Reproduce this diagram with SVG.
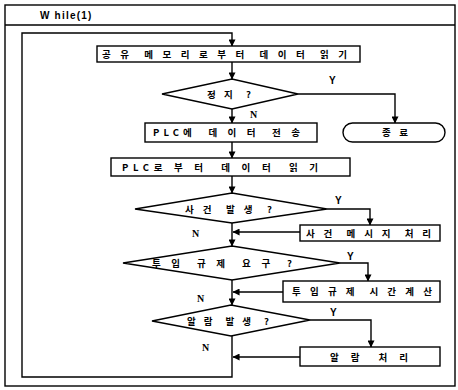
<svg xmlns="http://www.w3.org/2000/svg" width="458" height="390" viewBox="0 0 458 390">
  <style>
    .shape { fill: #fff; stroke: #000; stroke-width: 1.4; }
    .line { fill: none; stroke: #000; stroke-width: 1.4; }
    .ko { font-family: "Noto Sans CJK KR", "Liberation Sans", sans-serif; font-size: 9.5px; font-weight: bold; fill: #000; white-space: pre; }
    .lat { font-family: "Liberation Sans", sans-serif; font-size: 10px; font-weight: bold; fill: #000; }
    .yn { font-family: "Liberation Serif", serif; font-size: 10px; font-weight: bold; fill: #000; }
  </style>
  <defs>
    <marker id="arrow" viewBox="0 0 8 8" refX="7.5" refY="4" markerWidth="7" markerHeight="7" markerUnits="userSpaceOnUse" orient="auto">
      <path d="M0,0 L8,4 L0,8 Z" fill="#000"/>
    </marker>
  </defs>

  <rect width="458" height="390" fill="#fff"/>

  <!-- outer frame with the while(1) header -->
  <g id="frame">
    <rect class="line" x="5" y="5" width="450" height="381"/>
    <line class="line" x1="5" y1="25" x2="455" y2="25"/>
    <text class="lat" x="40" y="18.5" letter-spacing="1.2">W hile(1)</text>
  </g>

  <!-- connectors -->
  <g id="connectors">
    <path class="line" d="M232,336 V377 H22 V33 H232 V46" marker-end="url(#arrow)"/>
    <path class="line" d="M232,62 V79" marker-end="url(#arrow)"/>
    <path class="line" d="M298,94 H395 V123" marker-end="url(#arrow)"/>
    <path class="line" d="M232,109 V123" marker-end="url(#arrow)"/>
    <path class="line" d="M232,142 V158" marker-end="url(#arrow)"/>
    <path class="line" d="M232,176 V193" marker-end="url(#arrow)"/>
    <path class="line" d="M327,209 H370 V225" marker-end="url(#arrow)"/>
    <path class="line" d="M232,223 V246" marker-end="url(#arrow)"/>
    <path class="line" d="M300,232 H233" marker-end="url(#arrow)"/>
    <path class="line" d="M340,263 H368 V281" marker-end="url(#arrow)"/>
    <path class="line" d="M232,280 V305" marker-end="url(#arrow)"/>
    <path class="line" d="M283,292 H233" marker-end="url(#arrow)"/>
    <path class="line" d="M310,320 H371 V347" marker-end="url(#arrow)"/>
    <path class="line" d="M300,357 H233" marker-end="url(#arrow)"/>
    <text class="lat" x="329" y="84">Y</text>
    <text class="yn" x="250" y="118">N</text>
    <text class="lat" x="335" y="204">Y</text>
    <text class="yn" x="192" y="237">N</text>
    <text class="lat" x="347" y="260">Y</text>
    <text class="yn" x="197" y="302">N</text>
    <text class="lat" x="330" y="316">Y</text>
    <text class="yn" x="202" y="351">N</text>
  </g>

  <g id="read-shared-memory">
    <rect class="shape" x="97" y="46" width="263" height="16"/>
    <text class="ko" xml:space="preserve" x="102" y="57.5" textLength="245" lengthAdjust="spacing">공 유  메 모 리 로 부 터  데 이 터  읽 기</text>
  </g>

  <g id="stop-check">
    <polygon class="shape" points="162,94 232,79 298,94 232,109"/>
    <text class="ko" xml:space="preserve" x="207" y="98" textLength="44" lengthAdjust="spacing">정 지  ?</text>
  </g>

  <g id="end">
    <rect class="shape" x="343" y="123" width="102" height="19" rx="9.5" ry="9.5"/>
    <text class="ko" xml:space="preserve" x="382" y="136" textLength="26" lengthAdjust="spacing">종 료</text>
  </g>

  <g id="send-to-plc">
    <rect class="shape" x="145" y="123" width="172" height="19"/>
    <text class="ko" xml:space="preserve" x="153" y="136" textLength="147" lengthAdjust="spacing">PLC에  데 이 터  전 송</text>
  </g>

  <g id="read-from-plc">
    <rect class="shape" x="111" y="158" width="239" height="18"/>
    <text class="ko" xml:space="preserve" x="122" y="170.5" textLength="196" lengthAdjust="spacing">PLC로 부 터  데 이 터  읽 기</text>
  </g>

  <g id="event-check">
    <polygon class="shape" points="135,209 232,193 327,209 232,223"/>
    <text class="ko" xml:space="preserve" x="185" y="212.5" textLength="87" lengthAdjust="spacing">사 건  발 생  ?</text>
  </g>

  <g id="event-message">
    <rect class="shape" x="300" y="225" width="140" height="16"/>
    <text class="ko" xml:space="preserve" x="306" y="236.5" textLength="125" lengthAdjust="spacing">사 건  메 시 지  처 리</text>
  </g>

  <g id="input-limit-check">
    <polygon class="shape" points="123,263 232,246 340,263 232,280"/>
    <text class="ko" xml:space="preserve" x="152" y="266.5" textLength="140" lengthAdjust="spacing">투 입  규 제  요 구  ?</text>
  </g>

  <g id="input-limit-time">
    <rect class="shape" x="283" y="281" width="157" height="21"/>
    <text class="ko" xml:space="preserve" x="292" y="295" textLength="140" lengthAdjust="spacing">투 입 규 제  시 간 계 산</text>
  </g>

  <g id="alarm-check">
    <polygon class="shape" points="152,321 231,305 310,320 231,336"/>
    <text class="ko" xml:space="preserve" x="187" y="324.5" textLength="82" lengthAdjust="spacing">알 람  발 생  ?</text>
  </g>

  <g id="alarm-handling">
    <rect class="shape" x="300" y="347" width="140" height="19"/>
    <text class="ko" xml:space="preserve" x="330" y="360.5" textLength="78" lengthAdjust="spacing">알 람  처 리</text>
  </g>
</svg>
